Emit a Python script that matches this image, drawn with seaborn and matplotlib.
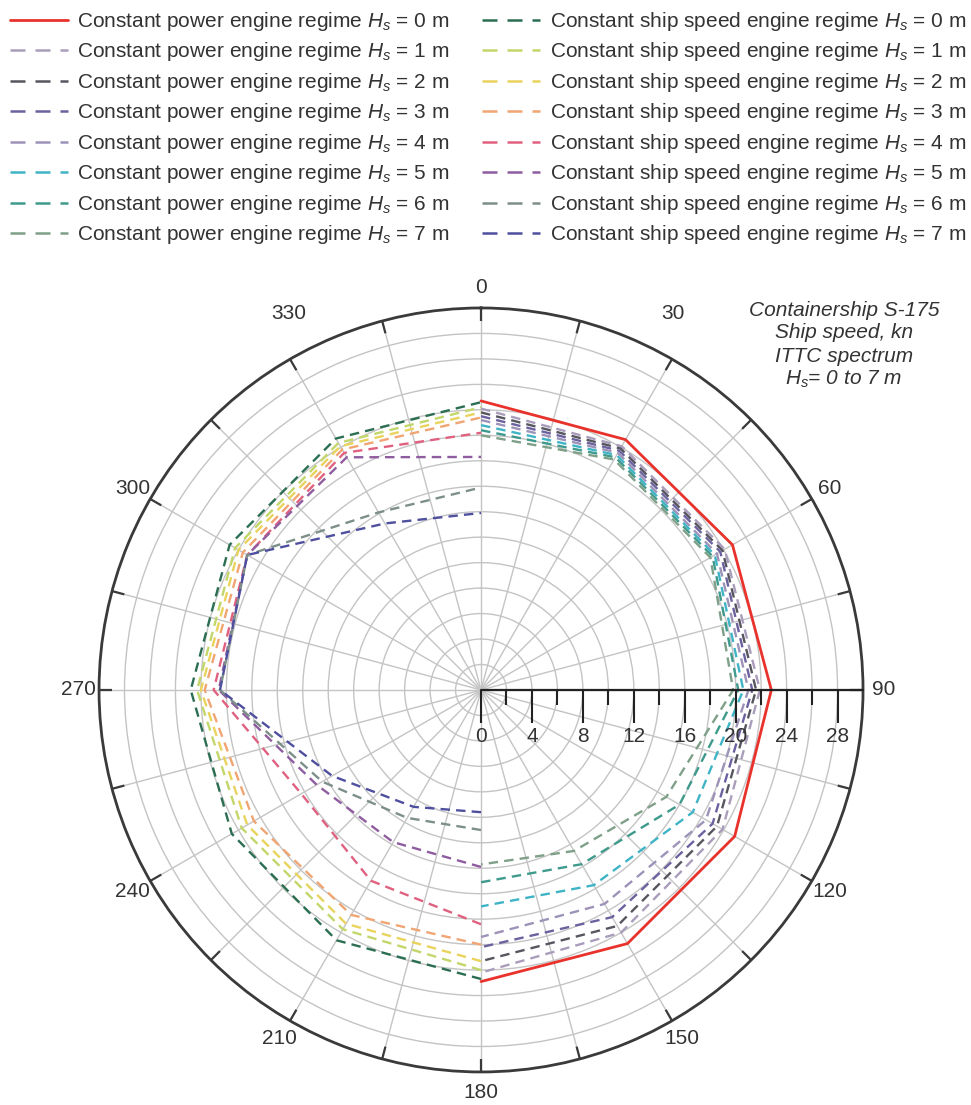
import numpy as np
import matplotlib
matplotlib.use("Agg")
import matplotlib.pyplot as plt
import seaborn as sns
from matplotlib.lines import Line2D

# ---------------- data ----------------
wave_heights = [0, 1, 2, 3, 4, 5, 6, 7]

# constant power regime (drawn on 0..180 deg half)
angles_power = [0, 30, 60, 90, 120, 150, 180]
power_hs0 = [22.7, 22.7, 22.8, 22.8, 23.0, 23.0, 22.9]
power_hs1 = [22.1, 22.1, 22.1, 21.9, 21.9, 22.0, 22.2]
power_hs2 = [21.8, 21.9, 21.9, 21.6, 21.4, 21.4, 21.3]
power_hs3 = [21.5, 21.7, 21.7, 21.3, 21.0, 20.6, 20.2]
power_hs4 = [21.2, 21.5, 21.4, 21.0, 20.4, 19.4, 19.4]
power_hs5 = [20.8, 21.3, 21.2, 20.6, 19.2, 17.7, 17.0]
power_hs6 = [20.4, 21.1, 21.0, 20.2, 18.0, 15.8, 15.1]
power_hs7 = [20.0, 20.9, 20.8, 19.8, 16.8, 14.6, 13.7]

# constant ship speed regime (drawn on 180..360 deg half)
angles_speed = [180, 210, 240, 270, 300, 330, 360]
speed_hs0 = [22.7, 22.7, 22.6, 22.8, 22.8, 22.8, 22.6]
speed_hs1 = [22.0, 21.7, 21.7, 22.3, 22.3, 22.4, 22.2]
speed_hs2 = [21.3, 21.2, 21.2, 22.0, 22.0, 22.1, 21.8]
speed_hs3 = [20.0, 20.4, 20.6, 21.7, 21.6, 21.8, 21.4]
speed_hs4 = [18.4, 17.3, 16.3, 21.0, 21.2, 21.5, 20.2]
speed_hs5 = [13.9, 13.8, 14.9, 20.6, 21.2, 21.1, 18.3]
speed_hs6 = [11.0, 11.6, 14.4, 20.5, 21.2, 16.1, 15.9]
speed_hs7 = [9.6, 10.6, 13.5, 20.5, 21.2, 15.1, 13.9]

radial_ticks = [0, 4, 8, 12, 16, 20, 24, 28]
radial_minor = [2, 6, 10, 14, 18, 22, 26]
angle_ticks = [0, 30, 60, 90, 120, 150, 180, 210, 240, 270, 300, 330]
angle_labels = ["0", "30", "60", "90", "120", "150", "180", "210", "240", "270", "300", "330"]

power_series = [power_hs0, power_hs1, power_hs2, power_hs3, power_hs4, power_hs5, power_hs6, power_hs7]
speed_series = [speed_hs0, speed_hs1, speed_hs2, speed_hs3, speed_hs4, speed_hs5, speed_hs6, speed_hs7]

# ---------------- style ----------------
power_colors = ["#e8322b", "#a99dbb", "#56565f", "#6b619f", "#9d92b8", "#3fb4c6", "#3e9a8c", "#7fa088"]
speed_colors = ["#2b6e52", "#c3d66a", "#e9d35c", "#f0a572", "#e0617f", "#8e5c9f", "#7c8f89", "#4f4f9f"]

sns.set_theme(style="ticks")
plt.rcParams["font.family"] = ["Liberation Sans", "DejaVu Sans"]
plt.rcParams["mathtext.fontset"] = "custom"
plt.rcParams["mathtext.rm"] = "Liberation Sans"
plt.rcParams["mathtext.it"] = "Liberation Sans:italic"
plt.rcParams["mathtext.bf"] = "Liberation Sans:bold"

TXT = "#333333"
FS = 15
fig = plt.figure(figsize=(9.71, 11.05), dpi=100)
ax = fig.add_axes([0.1020, 0.0299, 0.7868, 0.6914], projection="polar")
ax.set_theta_zero_location("N")
ax.set_theta_direction(-1)

DASH = (0, (4, 2.6))
for i, h in enumerate(wave_heights):
    th = np.deg2rad(angles_power)
    ls = "-" if i == 0 else DASH
    lw = 2.0 if i == 0 else 1.7
    sns.lineplot(x=th, y=power_series[i], ax=ax, sort=False, color=power_colors[i],
                 linestyle=ls, linewidth=lw, errorbar=None, zorder=4 if i == 0 else 3)
for i, h in enumerate(wave_heights):
    th = np.deg2rad(angles_speed)
    sns.lineplot(x=th, y=speed_series[i], ax=ax, sort=False, color=speed_colors[i],
                 linestyle=DASH, linewidth=1.7, errorbar=None, zorder=3)

ax.set_xlabel("")
ax.set_ylabel("")
ax.set_rlim(0, 30)
ax.set_yticks(np.arange(2, 30, 2))
ax.set_yticklabels([])
ax.yaxis.set_tick_params(length=0)
tick_angles = np.arange(0, 360, 15)
ax.set_xticks(np.deg2rad(tick_angles))
ax.set_xticklabels([])
ax.tick_params(axis="x", length=0)
ax.grid(True, color="#c4c4c4", linewidth=1.0)
ax.spines["polar"].set_color("#3a3a3a")
ax.spines["polar"].set_linewidth(2.0)

# angle labels outside the circle (30 and 330 sit a little higher, as in the source)
for a, lab in zip(angle_ticks, angle_labels):
    if a == 30:
        pos = (np.deg2rad(27), 33.2)
    elif a == 330:
        pos = (np.deg2rad(333), 33.2)
    else:
        pos = (np.deg2rad(a), 31.6)
    ax.text(pos[0], pos[1], lab, ha="center", va="center", fontsize=FS, color=TXT, clip_on=False)

# inward tick marks on the outer circle every 15 deg
ax.vlines(np.deg2rad(tick_angles), 29.0, 30.0, color="#3a3a3a", lw=1.6, zorder=5)

# radial axis along 90 deg
ax.plot([np.pi / 2, np.pi / 2], [0, 30], color="#222222", lw=1.6, zorder=5, clip_on=False)
ax.plot([np.pi / 2] * len(radial_ticks), radial_ticks, linestyle="none", marker=3,
        markersize=24, markeredgewidth=1.5, color="#222222", zorder=5, clip_on=False)
ax.plot([np.pi / 2] * len(radial_minor), radial_minor, linestyle="none", marker=3,
        markersize=11, markeredgewidth=1.5, color="#222222", zorder=5, clip_on=False)
for v in radial_ticks:
    ax.annotate(str(v), xy=(np.pi / 2, v), xytext=(0, -27), textcoords="offset points",
                ha="center", va="top", fontsize=FS, color=TXT, zorder=6)

# legend
handles, labels = [], []
for i, h in enumerate(wave_heights):
    ls = "-" if i == 0 else (0, (6, 4))
    handles.append(Line2D([], [], color=power_colors[i], linestyle=ls, lw=2.0 if i == 0 else 1.8))
    labels.append(f"Constant power engine regime $H_s$ = {h} m")
for i, h in enumerate(wave_heights):
    handles.append(Line2D([], [], color=speed_colors[i], linestyle=(0, (6, 4)), lw=1.8))
    labels.append(f"Constant ship speed engine regime $H_s$ = {h} m")
leg = fig.legend(handles, labels, ncol=2, loc="upper left", bbox_to_anchor=(0.010, 0.991),
                 frameon=False, fontsize=FS, handlelength=2.8, handletextpad=0.45,
                 columnspacing=1.55, labelspacing=0.36, borderpad=0, borderaxespad=0)
for t in leg.get_texts():
    t.set_color(TXT)

# annotation
note_lines = ["Containership S-175", "Ship speed, kn", "ITTC spectrum", "$H_s$= 0 to 7 m"]
for k, line in enumerate(note_lines):
    fig.text(844 / 971, 1 - (310 + 23 * k) / 1105, line, ha="center", va="center",
             fontsize=FS, style="italic", color=TXT)

fig.savefig("out.png", dpi=100)
